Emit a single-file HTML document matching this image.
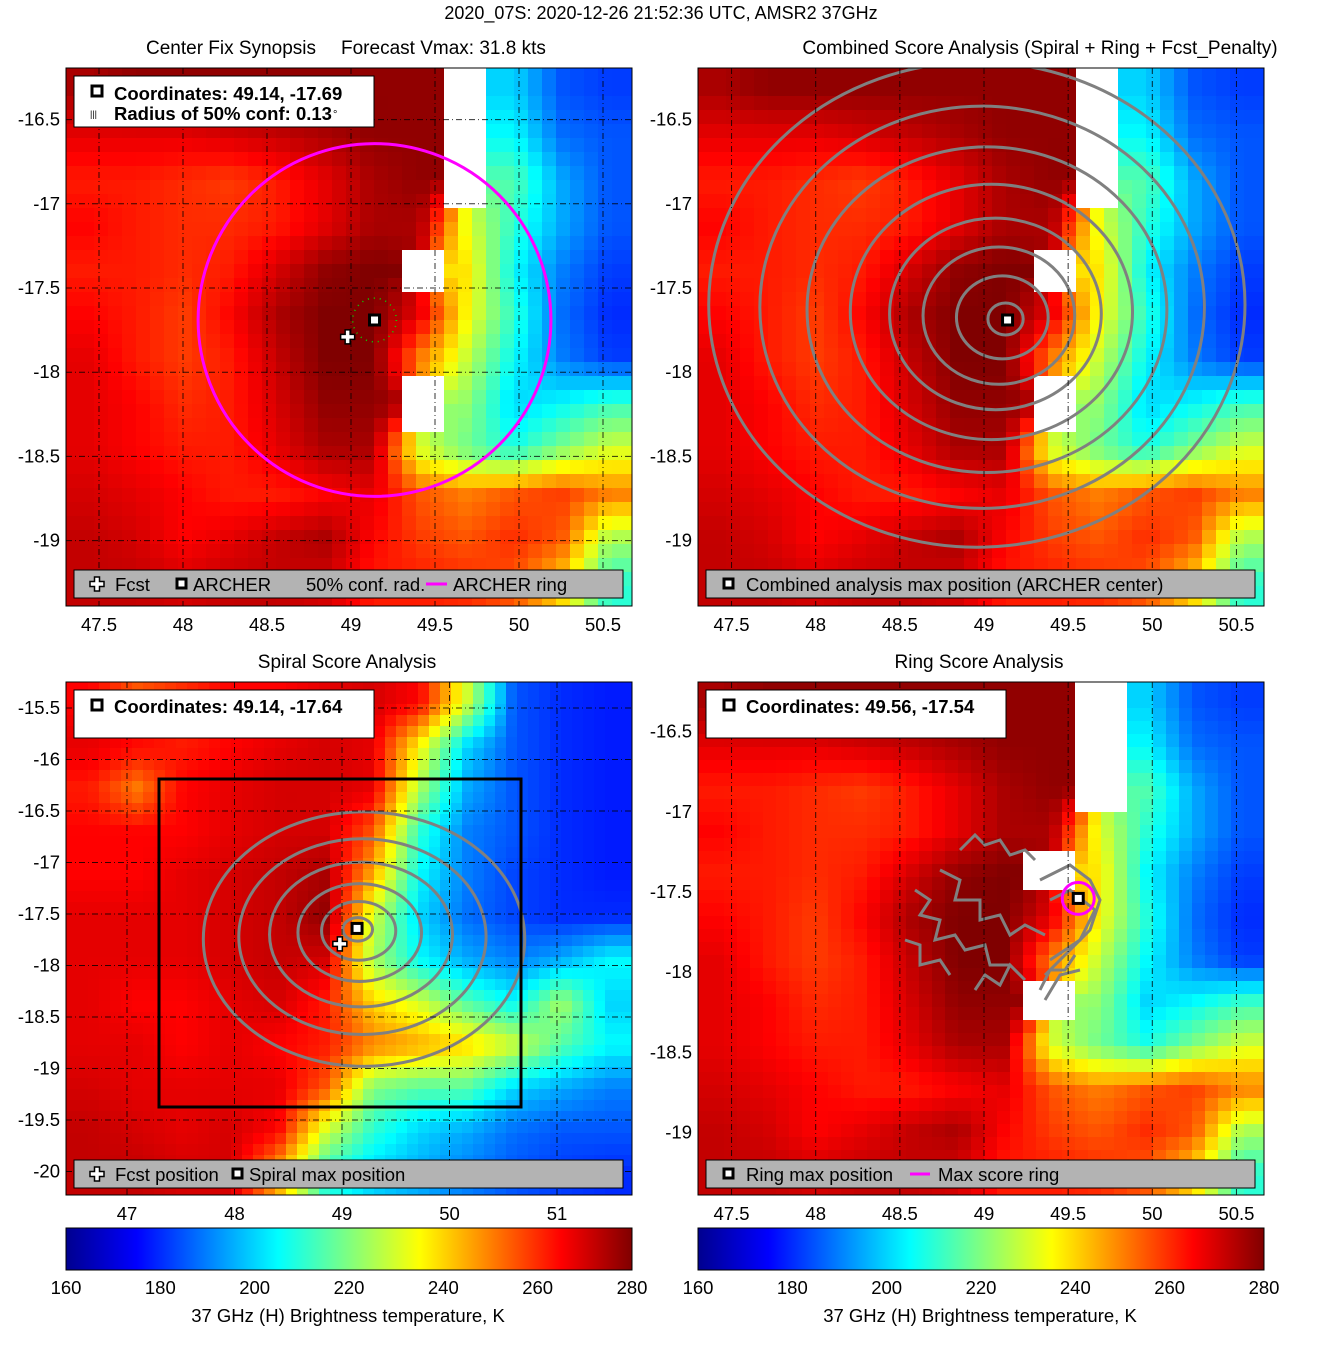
<!DOCTYPE html>
<html><head><meta charset="utf-8"><style>
body{margin:0;background:#fff;}
svg{display:block;font-family:"Liberation Sans",sans-serif;}
text{fill:#000;}
</style></head><body>
<svg id="fig" width="1317" height="1350" viewBox="0 0 1317 1350" xmlns="http://www.w3.org/2000/svg">
<defs>
<linearGradient id="jet" x1="0" x2="1" y1="0" y2="0">
<stop offset="0" stop-color="#00008f"/><stop offset="0.125" stop-color="#0000ff"/><stop offset="0.375" stop-color="#00ffff"/><stop offset="0.625" stop-color="#ffff00"/><stop offset="0.875" stop-color="#ff0000"/><stop offset="1" stop-color="#800000"/>
</linearGradient>
<clipPath id="c1"><rect x="66" y="68" width="566" height="538"/></clipPath>
<clipPath id="c2"><rect x="698" y="68" width="566" height="538"/></clipPath>
<clipPath id="c3"><rect x="66" y="682" width="566" height="513"/></clipPath>
<clipPath id="c4"><rect x="698" y="682" width="566" height="513"/></clipPath>
</defs>
<text x="661" y="19" font-size="18" text-anchor="middle">2020_07S: 2020-12-26 21:52:36 UTC, AMSR2 37GHz</text>
<text x="146" y="54" font-size="19">Center Fix Synopsis</text>
<text x="341" y="54" font-size="19">Forecast Vmax: 31.8 kts</text>
<text x="1040" y="54" font-size="19" text-anchor="middle">Combined Score Analysis (Spiral + Ring + Fcst_Penalty)</text>
<text x="347" y="668" font-size="19" text-anchor="middle">Spiral Score Analysis</text>
<text x="979" y="668" font-size="19" text-anchor="middle">Ring Score Analysis</text>
<g id="layers"></g>
</svg>
<script>
// ---- data ----
const gridA = [
[275,278,278,278,278,278,278,278,0,200,185,182],
[268,268,268,270,272,275,278,278,0,205,188,185],
[262,262,260,258,262,268,275,278,0,215,195,185],
[265,262,260,260,262,268,275,275,232,210,195,185],
[262,262,260,262,270,278,280,0,238,205,190,182],
[265,262,258,265,275,280,280,268,235,210,188,180],
[268,262,258,262,272,280,280,250,228,205,190,182],
[268,265,260,262,270,278,278,0,222,200,205,212],
[268,265,262,262,268,275,275,230,218,208,220,230],
[270,268,265,262,262,265,268,255,250,255,258,250],
[272,270,265,268,272,275,265,258,255,260,255,225],
[272,272,270,272,272,270,262,262,260,255,240,210]];
const gridB = [
[265,255,260,265,265,268,270,265,230,185,180,178],
[268,265,262,265,268,270,268,235,200,185,180,178],
[262,250,265,268,270,270,268,225,195,185,180,178],
[265,265,265,268,270,270,255,210,190,185,180,178],
[265,265,268,270,272,275,245,205,190,183,180,178],
[268,268,268,270,272,278,230,200,188,183,180,180],
[268,268,268,270,272,270,225,205,195,190,195,205],
[268,265,265,268,270,262,240,230,215,205,225,200],
[268,268,265,268,265,262,250,245,240,230,215,205],
[270,268,268,268,268,255,220,215,215,200,195,190],
[272,270,268,270,265,230,210,200,195,188,185,185],
[272,272,270,270,245,210,200,195,190,185,182,180]];
const xTicksA = [47.5,48,48.5,49,49.5,50,50.5];
const yTicksA = [-16.5,-17,-17.5,-18,-18.5,-19];
const xTicksB = [47,48,49,50,51];
const yTicksB = [-15.5,-16,-16.5,-17,-17.5,-18,-18.5,-19,-19.5,-20];
const cbTicks = [160,180,200,220,240,260,280];
const archer = [49.14,-17.69];
const fcst = [48.98,-17.79];
const ringRadiusDeg = 1.05;
const confRadiusDeg = 0.13;
const spiralCenter = [49.14,-17.64];
const ringCenter = [49.56,-17.54];
const combRings = [0.1,0.26,0.43,0.6,0.8,1.02,1.26,1.52];
const spiralRings = [0.12,0.3,0.5,0.74,1.0,1.3];

// ---- helpers ----
const NS='http://www.w3.org/2000/svg';
const layers=document.getElementById('layers');
const FS=18.5;
function mk(tag,attrs,parent){const e=document.createElementNS(NS,tag);for(const k in attrs)e.setAttribute(k,attrs[k]);(parent||layers).appendChild(e);return e;}
function jet(v){let t=(v-160)/120;t=Math.max(0,Math.min(1,t));const c=x=>Math.round(255*Math.max(0,Math.min(1,1.5-Math.abs(4*t-x))));return `rgb(${c(3)},${c(2)},${c(1)})`;}
function panel(px0,py0,w,h,lon0,lat0,dlon,dlat){
  return {px0,py0,w,h,x:lon=>px0+(lon-lon0)/dlon*w,y:lat=>py0+(lat0-lat)/dlat*h,lon0,lat0,dlon,dlat};
}
const P1=panel(66,68,566,538,49+(66-351)/168,-17.5+(288-68)/168.4,566/168,538/168.4);
const P2=panel(698,68,566,538,49+(698-984)/168.3,-17.5+(288-68)/168.4,566/168.3,538/168.4);
const P3=panel(66,682,566,513,49+(66-342)/107.5,-17.5+(914-682)/103,566/107.5,513/103);
const P4=panel(698,682,566,513,49+(698-984)/168.3,-17.5+(892-682)/160.4,566/168.3,513/160.4);
function sample(grid,G,lon,lat){
  const n=grid.length,m=grid[0].length;
  const fx=(lon-G.lon0)/G.dlon*m-0.5, fy=(G.lat0-lat)/G.dlat*n-0.5;
  const cx=Math.max(0,Math.min(m-1,fx)),cy=Math.max(0,Math.min(n-1,fy));
  const nx=Math.round(cx),ny=Math.round(cy);
  if(grid[ny][nx]===0)return 0;
  const x0=Math.floor(cx),y0=Math.floor(cy),x1=Math.min(m-1,x0+1),y1=Math.min(n-1,y0+1),tx=cx-x0,ty=cy-y0;
  let s=0,ws=0;[[x0,y0,(1-tx)*(1-ty)],[x1,y0,tx*(1-ty)],[x0,y1,(1-tx)*ty],[x1,y1,tx*ty]].forEach(([a,b,w])=>{if(grid[b][a]>0){s+=grid[b][a]*w;ws+=w;}});
  return ws?s/ws:0;
}
function heat(P,grid,G,clip,name,cell){
  const g=mk('g',{'clip-path':`url(#${clip})`});
  
  
  const nx=Math.ceil(P.w/cell),ny=Math.ceil(P.h/cell);
  for(let j=0;j<ny;j++)for(let i=0;i<nx;i++){
    const lon=P.lon0+(i+0.5)*cell/P.w*P.dlon, lat=P.lat0-(j+0.5)*cell/P.h*P.dlat;
    const v=sample(grid,G,lon,lat);
    mk('rect',{x:P.px0+i*cell,y:P.py0+j*cell,width:cell+0.5,height:cell+0.5,fill:v?jet(v):'#fff'},g);
  }
  return g;
}
function axes(P,xt,yt,clip,pref){
  const g=mk('g',{'clip-path':`url(#${clip})`});
  
  
  xt.forEach(t=>mk('line',{x1:P.x(t),x2:P.x(t),y1:P.py0,y2:P.py0+P.h,stroke:'#000','stroke-width':1,'stroke-dasharray':'6,3,1,3','stroke-opacity':0.8},g));
  yt.forEach(t=>mk('line',{x1:P.px0,x2:P.px0+P.w,y1:P.y(t),y2:P.y(t),stroke:'#000','stroke-width':1,'stroke-dasharray':'6,3,1,3','stroke-opacity':0.8},g));
  const fr=mk('rect',{x:P.px0,y:P.py0,width:P.w,height:P.h,fill:'none',stroke:'#000','stroke-width':1});
  
  
  xt.forEach(t=>{const e=mk('text',{x:P.x(t),y:P.py0+P.h+25,'font-size':FS,'text-anchor':'middle'});e.textContent=t;
    
    });
  yt.forEach(t=>{const e=mk('text',{x:P.px0-6,y:P.y(t)+6,'font-size':FS,'text-anchor':'end'});e.textContent=t;
    
    });
}
function marker(x,y,name){const g=mk('g',{});
  mk('rect',{x:x-5,y:y-5,width:10,height:10,fill:'#fff',stroke:'#000','stroke-width':3},g);return g;}
function cross(x,y,name){const g=mk('g',{});
  mk('path',{d:`M${x-2.5} ${y-7}h5v4.5h4.5v5h-4.5v4.5h-5v-4.5h-4.5v-5h4.5z`,fill:'#fff',stroke:'#000','stroke-width':1.5},g);return g;}
function box(x,y,w,h,fill,name){const r=mk('rect',{x,y,width:w,height:h,fill,stroke:'#000','stroke-width':1});return r;}
function txt(x,y,s,size,name,bold){const e=mk('text',{x,y,'font-size':size,'font-weight':bold?'bold':'normal'});e.textContent=s;return e;}

// ---- panel 1 ----
heat(P1,gridA,P1,'c1','panel1-heatmap',14);
axes(P1,xTicksA,yTicksA,'c1','panel1');
(function(){const c=mk('circle',{cx:P1.x(archer[0]),cy:P1.y(archer[1]),r:ringRadiusDeg*168,fill:'none',stroke:'#ff00ff','stroke-width':3});

const d=mk('circle',{cx:P1.x(archer[0]),cy:P1.y(archer[1]),r:confRadiusDeg*168,fill:'none',stroke:'#00dd00','stroke-width':1.5,'stroke-dasharray':'1,5'});
})();
cross(P1.x(fcst[0]),P1.y(fcst[1]),'fcst-marker');
marker(P1.x(archer[0]),P1.y(archer[1]),'archer-marker');
box(74,76,300,51,'#fff','panel1-info-box');
mk('rect',{x:92,y:86,width:10,height:10,fill:'#fff',stroke:'#000','stroke-width':3});
txt(114,100,'Coordinates: 49.14, -17.69',FS,'panel1-coordinates',true);
txt(90,117,'|||',9,'conf-legend-icon',false).setAttribute('fill','#0c0');
txt(114,120,'Radius of 50% conf: 0.13',FS,'panel1-radius',true);
txt(333,118,'°',11,'degree-sign',false);
box(74,570,549,28,'#b3b3b3','panel1-legend');
cross(97,584,'legend-fcst-icon');
txt(115,591,'Fcst',FS,'legend-fcst');
mk('rect',{x:177,y:579,width:9,height:9,fill:'#fff',stroke:'#000','stroke-width':3});
txt(193,591,'ARCHER',FS,'legend-archer');
txt(306,591,'50% conf. rad.',FS,'legend-conf');
mk('line',{x1:426,x2:447,y1:584,y2:584,stroke:'#ff00ff','stroke-width':3});
txt(453,591,'ARCHER ring',FS,'legend-ring');

// ---- panel 2 ----
heat(P2,gridA,P2,'c2','panel2-heatmap',14);
(function(){const g=mk('g',{'clip-path':'url(#c2)'});
combRings.forEach(r=>{const cx=P2.x(archer[0]-r*0.12),cy=P2.y(archer[1]+r*0.06);
 mk('ellipse',{cx,cy,rx:r*168*1.05,ry:r*168*0.95,fill:'none',stroke:'#808080','stroke-width':3},g);});})();
axes(P2,xTicksA,[],'c2','panel2');
yTicksA.forEach(t=>{const e=mk('text',{x:692,y:P2.y(t)+6,'font-size':FS,'text-anchor':'end'});e.textContent=t;});
marker(P2.x(archer[0]),P2.y(archer[1]),'combined-max-marker');
box(706,570,549,28,'#b3b3b3','panel2-legend');
mk('rect',{x:724,y:579,width:9,height:9,fill:'#fff',stroke:'#000','stroke-width':3});
txt(746,591,'Combined analysis max position (ARCHER center)',FS,'legend-combined');

// ---- panel 3 ----
heat(P3,gridB,P3,'c3','panel3-heatmap',11);
(function(){const g=mk('g',{'clip-path':'url(#c3)'});
spiralRings.forEach(r=>{mk('ellipse',{cx:P3.x(spiralCenter[0]+r*0.05),cy:P3.y(spiralCenter[1]-r*0.08),rx:r*107.5*1.15,ry:r*103*0.95,fill:'none',stroke:'#808080','stroke-width':3},g);});})();
axes(P3,xTicksB,yTicksB,'c3','panel3');
(function(){const r=mk('rect',{x:159,y:779,width:362,height:328,fill:'none',stroke:'#000','stroke-width':3});})();
cross(P3.x(fcst[0]),P3.y(fcst[1]),'panel3-fcst-marker');
marker(P3.x(spiralCenter[0]),P3.y(spiralCenter[1]),'spiral-max-marker');
box(74,690,300,48,'#fff','panel3-info-box');
mk('rect',{x:92,y:700,width:10,height:10,fill:'#fff',stroke:'#000','stroke-width':3});
txt(114,713,'Coordinates: 49.14, -17.64',FS,'panel3-coordinates',true);
box(74,1160,549,28,'#b3b3b3','panel3-legend');
cross(97,1174,'legend3-fcst-icon');
txt(115,1181,'Fcst position',FS,'legend-fcst-position');
mk('rect',{x:233,y:1169,width:9,height:9,fill:'#fff',stroke:'#000','stroke-width':3});
txt(249,1181,'Spiral max position',FS,'legend-spiral-max');

// ---- panel 4 ----
heat(P4,gridA,P4,'c4','panel4-heatmap',13);
(function(){const g=mk('g',{'clip-path':'url(#c4)',fill:'none',stroke:'#808080','stroke-width':3});
['M960 850 l15 -15 l10 10 l15 -5 l10 15 l15 -5 l10 10','M915 890 l15 10 l-10 15 l20 5 l-5 20 l20 -5 l10 15 l20 -5 l5 20 l20 0','M940 870 l20 10 l-5 20 l25 0 l0 20 l20 -5 l10 20 l15 -10 l20 10','M905 940 l15 5 l0 20 l20 -5 l10 15','M975 990 l10 -15 l15 10 l10 -20 l15 15','M1040 880 l30 -15 l20 15 l10 20 l-10 30 l-25 25 l-20 20','M1050 900 l20 -10 l25 20 l-15 30 l-30 20','M1040 990 l10 -20 l15 0 l10 -15','M1045 1000 l15 -25 l20 -5'].forEach(d=>mk('path',{d},g));})();
axes(P4,xTicksA,[],'c4','panel4');
[-16.5,-17,-17.5,-18,-18.5,-19].forEach(t=>{const e=mk('text',{x:692,y:P4.y(t)+6,'font-size':FS,'text-anchor':'end'});e.textContent=t;});
(function(){const c=mk('circle',{cx:P4.x(ringCenter[0]),cy:P4.y(ringCenter[1]),r:16,fill:'none',stroke:'#ff00ff','stroke-width':3});})();
marker(P4.x(ringCenter[0]),P4.y(ringCenter[1]),'ring-max-marker');
box(706,690,300,48,'#fff','panel4-info-box');
mk('rect',{x:724,y:700,width:10,height:10,fill:'#fff',stroke:'#000','stroke-width':3});
txt(746,713,'Coordinates: 49.56, -17.54',FS,'panel4-coordinates',true);
box(706,1160,549,28,'#b3b3b3','panel4-legend');
mk('rect',{x:724,y:1169,width:9,height:9,fill:'#fff',stroke:'#000','stroke-width':3});
txt(746,1181,'Ring max position',FS,'legend-ring-max');
mk('line',{x1:910,x2:930,y1:1174,y2:1174,stroke:'#ff00ff','stroke-width':3});
txt(938,1181,'Max score ring',FS,'legend-max-ring');

// ---- colorbars ----
[[66,'left'],[698,'right']].forEach(([x0,side])=>{
  const w=566;
  const r=mk('rect',{x:x0,y:1228,width:w,height:42,fill:'url(#jet)',stroke:'#000','stroke-width':1});
  
  cbTicks.forEach(t=>{const e=mk('text',{x:x0+(t-160)/120*w,y:1294,'font-size':FS,'text-anchor':'middle'});e.textContent=t;
    });
  const l=mk('text',{x:x0+w/2-1,y:1322,'font-size':FS,'text-anchor':'middle'});l.textContent='37 GHz (H) Brightness temperature, K';
  
});
</script>
</body></html>
